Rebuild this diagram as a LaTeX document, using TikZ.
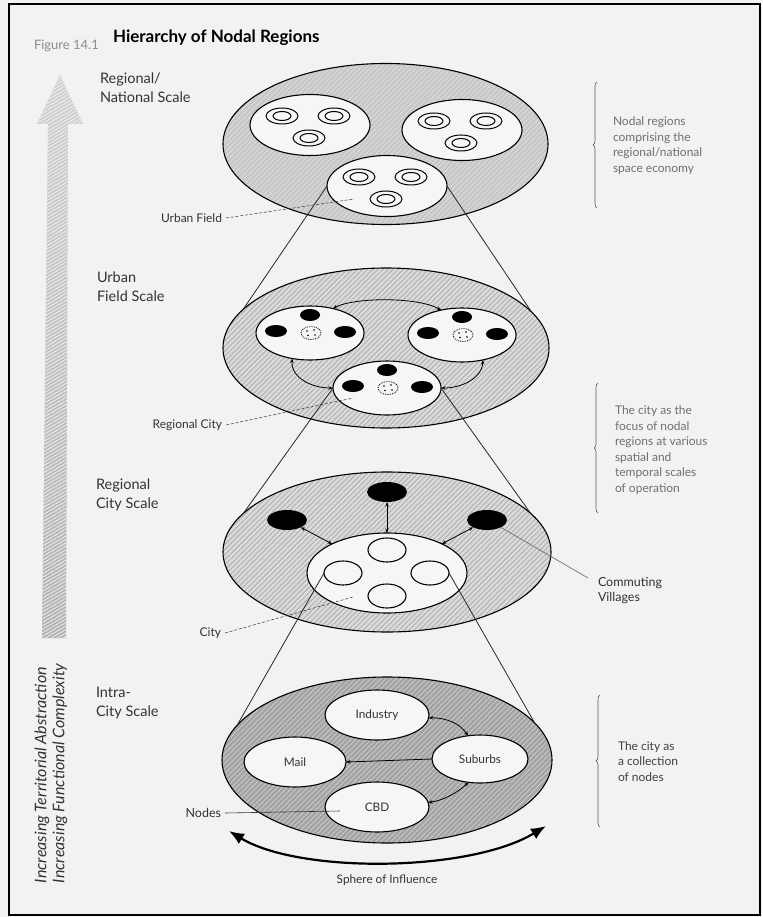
\documentclass[tikz,border=0pt]{standalone}
\usepackage{fontspec}
\setmainfont{Lato}
\usetikzlibrary{shapes.geometric,arrows.meta,patterns.meta,decorations.pathreplacing}
\definecolor{bg}{HTML}{F2F2F0}
\definecolor{wfill}{HTML}{F6F6F4}
\definecolor{txtdark}{HTML}{333333}
\definecolor{txtgray}{HTML}{707070}
\begin{document}
\begin{tikzpicture}[x=1pt,y=-1pt,
  every node/.style={inner sep=0pt,outer sep=0pt},
  el/.style 2 args={ellipse,minimum width=#1,minimum height=#2},
  hatch/.style 2 args={draw=black,line width=1.1pt,preaction={fill=#1},
     pattern={Lines[angle=45,distance=3.6pt,line width=1pt]},pattern color=#2},
  wel/.style={draw=black,line width=1.1pt,fill=wfill},
  ring/.style={draw=black,line width=1pt},
  blob/.style={ellipse,fill=black,minimum width=22pt,minimum height=12pt},
  dotc/.style={ellipse,draw=black,densely dotted,line width=0.8pt,fill=wfill,minimum width=20pt,minimum height=13pt},
  village/.style={ellipse,fill=black,minimum width=40pt,minimum height=20pt},
  cone/.style={draw=black!85,line width=0.8pt},
  dbl/.style={draw=black,line width=0.8pt,{Stealth[length=4.5pt,width=3.5pt]}-{Stealth[length=4.5pt,width=3.5pt]}},
  sarrow/.style={draw=black,line width=0.8pt,-{Stealth[length=4.5pt,width=3.5pt]}},
  dlabel/.style={draw=txtdark,line width=0.5pt,dash pattern=on 3pt off 1.8pt},
  scalelbl/.style={anchor=base west,align=left,text=txtdark,font=\fontsize{14.5}{18.5}\selectfont},
  smalllbl/.style={anchor=east,text=txtdark,font=\fontsize{12}{14}\selectfont},
  sidetxt/.style={anchor=base west,align=left,font=\fontsize{12}{15.6}\selectfont},
  bracestyle/.style={draw=black!65,line width=0.6pt,decorate,decoration={brace,amplitude=4pt}},
  inlbl/.style={font=\fontsize{11.8}{14}\selectfont,text=txtdark}
]
\useasboundingbox (0,0) rectangle (762,917);
\fill[bg] (0,0) rectangle (762,917);
\draw[line width=2pt] (9,4) rectangle (760,915);

% title
\node[anchor=base west,font=\fontsize{13}{15}\selectfont,text=black!45] (fig) at (34,50) {Figure 14.1};
\node[anchor=base west,font=\bfseries\fontsize{17}{19}\selectfont] (title) at (113,43) {Hierarchy of Nodal Regions};

% big gray arrow
\shade[top color=black!18,bottom color=black!30] (60,75) -- (83,124) -- (68,124) -- (66,638) -- (42,638) -- (48,124) -- (37,124) -- cycle;
\fill[pattern={Lines[angle=30,distance=3pt,line width=0.8pt]},pattern color=white!70!black!20] (60,75) -- (83,124) -- (68,124) -- (66,638) -- (42,638) -- (48,124) -- (37,124) -- cycle;

% rotated text
\node[rotate=90,anchor=west,font=\itshape\fontsize{16}{18}\selectfont,text=txtdark] (rot1) at (42,883) {Increasing Territorial Abstraction};
\node[rotate=90,anchor=west,font=\itshape\fontsize{16}{18}\selectfont,text=txtdark] (rot2) at (60,883) {Increasing Functional Complexity};

% scale labels (anchor = baseline of last line)
\node[scalelbl] (sl1) at (100,102.5) {Regional/\\National Scale};
\node[scalelbl] (sl2) at (97,301) {Urban\\Field Scale};
\node[scalelbl] (sl3) at (96,508) {Regional\\City Scale};
\node[scalelbl] (sl4) at (96,716) {Intra-\\City Scale};

% ===== Regional / national =====
\node[el={325pt}{161pt},hatch={black!22}{black!14}] (nr) at (385.5,144) {};
\foreach \n/\cx/\cy in {tl/310/125, tr/462/130, tb/387/186}{
  \node[el={120pt}{61pt},wel] (\n) at (\cx,\cy) {};
  \foreach \k/\dx/\dy in {1/-28/-9, 2/24/-9, 3/-1/13}{
    \node[el={32pt}{16pt},ring] (\n r\k o) at (\cx+\dx,\cy+\dy) {};
    \node[el={18pt}{9pt},ring] (\n r\k i) at (\cx+\dx,\cy+\dy) {};
  }
}

% ===== Urban field =====
\node[el={326pt}{160pt},hatch={black!14}{black!30}] (uf) at (386,348) {};
\foreach \n/\cx/\cy in {ufl/310/333, ufr/462/335, ufb/387/388}{
  \node[el={108pt}{54pt},wel] (\n) at (\cx,\cy) {};
  \node[blob,minimum width=20pt] (\n t) at (\cx,\cy-18) {};
  \node[blob] (\n w) at (\cx-34,\cy-2) {};
  \node[blob] (\n e) at (\cx+35,\cy-1) {};
  \node[dotc] (\n c) at (\cx+1,\cy) {};
  \foreach \ddx/\ddy in {-4/-2, 3/-3, -3/2.5, 4/2}{
    \fill (\cx+1+\ddx,\cy+\ddy) circle (0.9pt);
  }
}
\draw[dbl] (ufl.47) .. controls (355,297) and (418,297) .. (ufr.130);
\draw[dbl] (ufl.235) .. controls (291,378) and (312,388) .. (ufb.180);
\draw[dbl] (ufr.310) .. controls (482,378) and (462,388) .. (ufb.0);

% ===== Regional city =====
\node[el={328pt}{160pt},hatch={black!14}{black!30}] (rc) at (387,552) {};
\node[el={160pt}{80pt},wel] (city) at (387,573) {};
\node[el={38pt}{24pt},wel] (cn) at (387,550) {};
\node[el={38pt}{24pt},wel] (cw) at (343,573) {};
\node[el={38pt}{24pt},wel] (ce) at (430,573) {};
\node[el={38pt}{24pt},wel] (cs) at (387,596) {};
\node[village] (vl) at (287,520) {};
\node[village] (vt) at (387,492) {};
\node[village] (vr) at (487,520) {};
\draw[dbl] (vl) -- (city);
\draw[dbl] (vt) -- (city);
\draw[dbl] (vr) -- (city);

% ===== Intra-city =====
\node[el={330pt}{166pt},hatch={black!36}{black!22}] (ic) at (387,760) {};
\node[el={104pt}{50pt},wel,inlbl] (ind) at (377,715) {Industry};
\node[el={102pt}{50pt},wel,inlbl] (mail) at (295,762) {Mail};
\node[el={96pt}{48pt},wel,inlbl] (sub) at (480,759) {Suburbs};
\node[el={104pt}{50pt},wel,inlbl] (cbd) at (377,807) {CBD};
\draw[dbl] (ind.-3) .. controls (448,718) and (460,724) .. (sub.117);
\draw[sarrow] (sub.west) -- (mail.east);
\draw[dbl] (cbd.5) .. controls (445,800) and (458,792) .. (sub.244);

% cone lines
\draw[cone] (tb.west) -- (uf.165);
\draw[cone] (tb.east) -- (uf.14);
\draw[cone] (ufb.west) -- (rc.165);
\draw[cone] (ufb.east) -- (rc.15);
\draw[cone] (cw.west) -- (ic.167);
\draw[cone] (ce.east) -- (ic.14);

% labels with leader lines
\node[smalllbl] (lblUF) at (222,218) {Urban Field};
\coordinate (ufEnd) at (354,199);
\draw[dlabel] ([xshift=4pt]lblUF.east) -- (ufEnd);
\node[smalllbl] (lblRC) at (222,425) {Regional City};
\coordinate (rcEnd) at (353,398);
\draw[dlabel] ([xshift=4pt]lblRC.east) -- (rcEnd);
\node[smalllbl] (lblCity) at (221,633) {City};
\coordinate (cityEnd) at (353,597);
\draw[dlabel] ([xshift=4pt]lblCity.east) -- (cityEnd);
\node[smalllbl,font=\fontsize{12.5}{14}\selectfont] (lblNodes) at (221,813) {Nodes};
\coordinate (nodesEnd) at (340,811);
\draw[draw=txtdark,line width=0.6pt] ([xshift=4pt]lblNodes.east) -- (nodesEnd);
\node[anchor=base west,align=left,text=txtdark,font=\fontsize{12.5}{14.5}\selectfont] (lblCV) at (598,601) {Commuting\\Villages};
\coordinate (cvEnd) at (588,578);
\draw[draw=black!55,line width=0.7pt] (vr.-28) -- (cvEnd);

% sphere of influence
\coordinate (sphL) at (229,831);
\coordinate (sphR) at (546,826);
\draw[line width=2.2pt,{Latex[length=15pt,width=12pt]}-{Latex[length=15pt,width=12pt]}] (sphL) .. controls (300,874) and (470,872) .. (sphR);
\node[inlbl] (sphT) at (387,880) {Sphere of Influence};

% braces and side text (anchor = baseline of last line)
\coordinate (b1t) at (597,82);
\coordinate (b1b) at (597,208);
\draw[bracestyle] (b1b) -- (b1t);
\node[sidetxt,text=txtgray] (st1) at (613,172.5) {Nodal regions\\comprising the\\regional/national\\space economy};
\coordinate (b2t) at (598,383);
\coordinate (b2b) at (598,513);
\draw[bracestyle] (b2b) -- (b2t);
\node[sidetxt,text=txtgray] (st2) at (615,492.5) {The city as the\\focus of nodal\\regions at various\\spatial and\\temporal scales\\of operation};
\coordinate (b3t) at (600,695);
\coordinate (b3b) at (600,827);
\draw[bracestyle] (b3b) -- (b3t);
\node[sidetxt,text=black!75] (st3) at (618,781.5) {The city as\\a collection\\of nodes};
\end{tikzpicture}
\end{document}
